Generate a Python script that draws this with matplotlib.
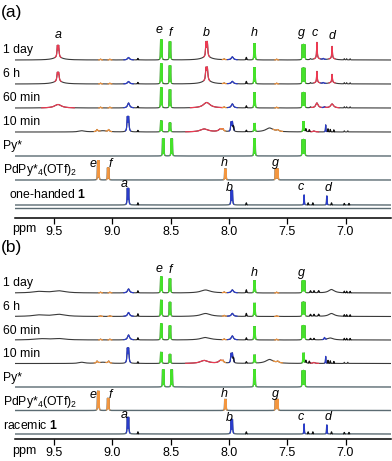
import numpy as np
import matplotlib
matplotlib.use('Agg')
import matplotlib.pyplot as plt

plt.rcParams['font.family'] = ['Liberation Sans', 'DejaVu Sans']
plt.rcParams['mathtext.fontset'] = 'custom'
plt.rcParams['mathtext.rm'] = 'Liberation Sans'
plt.rcParams['mathtext.it'] = 'Liberation Sans:italic'
plt.rcParams['mathtext.bf'] = 'Liberation Sans:bold'

W, H = 392, 461
PPM_MAX, PPM_MIN = 9.834, 6.61

COLS = {'k': '#3c3c3c', 'r': '#ec3a52', 'g': '#45e22a', 'o': '#f3963f', 'b': '#2a3ccc'}

# peaks: (ppm, height, width, colour, lines)
py_star = [(8.563, 17, .0016, 'g', 2), (8.49, 17, .0016, 'g', 2),
           (7.78, 17, .0016, 'g', 2), (7.36, 16, .0016, 'g', 3)]
pdpy = [(9.12, 19, .0016, 'o', 2), (9.035, 12, .0016, 'o', 2),
        (8.03, 11, .0016, 'o', 2), (7.59, 11, .0016, 'o', 3)]
ligand = [(8.865, 16, .0025, 'b', 2), (8.78, 2, .002, 'k', 1),
          (7.975, 14, .0025, 'b', 2), (7.85, 2, .002, 'k', 1),
          (7.355, 10, .002, 'b', 1), (7.32, 2, .002, 'k', 1), (7.28, 2, .002, 'k', 1),
          (7.16, 9, .002, 'b', 1), (7.12, 2, .002, 'k', 1),
          (7.01, 1.5, .002, 'k', 1), (6.97, 1.5, .002, 'k', 1)]

a_1day = [(9.465, 11, .004, 'r', 2), (9.465, 2.5, .05, 'k', 1),
          (9.10, .8, .004, 'o', 1), (9.02, .8, .004, 'o', 1),
          (8.86, 2.5, .01, 'b', 1), (8.78, 1.5, .003, 'k', 1),
          (8.58, 20, .0016, 'g', 2), (8.505, 18, .0016, 'g', 2),
          (8.19, 14, .004, 'r', 2), (8.19, 3, .05, 'k', 1),
          (8.04, .8, .004, 'o', 1), (7.97, 3, .01, 'b', 1), (7.85, 2.5, .003, 'k', 1),
          (7.78, 16, .0016, 'g', 2), (7.59, .8, .004, 'o', 1),
          (7.36, 15, .0016, 'g', 3), (7.30, 1, .004, 'k', 1),
          (7.245, 16, .003, 'r', 1), (7.245, 1.5, .03, 'k', 1), (7.19, 1, .005, 'b', 1),
          (7.115, 12, .003, 'r', 1), (7.115, 1.5, .03, 'k', 1),
          (7.01, 1.2, .002, 'k', 1), (6.99, 1.2, .002, 'k', 1), (6.96, 1.2, .002, 'k', 1)]
a_6h = [(9.465, 8, .005, 'r', 2), (9.465, 2.5, .05, 'k', 1),
        (9.10, .8, .004, 'o', 1), (9.02, .8, .004, 'o', 1),
        (8.86, 2.5, .01, 'b', 1), (8.78, 1.5, .003, 'k', 1),
        (8.58, 20, .0016, 'g', 2), (8.505, 18, .0016, 'g', 2),
        (8.19, 12, .005, 'r', 2), (8.19, 3, .05, 'k', 1),
        (8.04, .8, .004, 'o', 1), (7.97, 2.5, .01, 'b', 1), (7.85, 2.5, .003, 'k', 1),
        (7.78, 16, .0016, 'g', 2), (7.59, .8, .004, 'o', 1),
        (7.36, 15.5, .0016, 'g', 3), (7.30, 1, .004, 'k', 1),
        (7.245, 11, .003, 'r', 1), (7.245, 1.5, .03, 'k', 1), (7.19, 1, .005, 'b', 1),
        (7.115, 8, .003, 'r', 1), (7.115, 1.5, .03, 'k', 1),
        (7.01, 1.2, .002, 'k', 1), (6.99, 1.2, .002, 'k', 1), (6.96, 1.2, .002, 'k', 1)]
a_60min = [(9.465, 3.5, .035, 'r', 1), (9.10, .8, .004, 'o', 1), (9.02, .8, .004, 'o', 1),
           (8.86, 5, .01, 'b', 1), (8.78, 1.5, .003, 'k', 1),
           (8.58, 20, .0016, 'g', 2), (8.505, 18, .0016, 'g', 2),
           (8.19, 5.5, .035, 'r', 1), (8.04, .8, .004, 'o', 1),
           (7.97, 4, .01, 'b', 1), (7.85, 2, .003, 'k', 1),
           (7.78, 15, .0016, 'g', 2), (7.59, .8, .004, 'o', 1),
           (7.36, 15, .0016, 'g', 3), (7.30, 1, .004, 'k', 1),
           (7.245, 5, .012, 'r', 1), (7.18, 1, .005, 'b', 1), (7.115, 4, .015, 'r', 1),
           (7.01, 1.2, .002, 'k', 1), (6.99, 1.2, .002, 'k', 1), (6.96, 1.2, .002, 'k', 1)]
a_10min = [(9.26, 1.2, .03, 'k', 1), (9.13, 2, .006, 'o', 1), (9.08, 1.2, .04, 'k', 1),
           (9.03, 2, .006, 'o', 1), (8.865, 14, .004, 'b', 2), (8.78, 1.5, .003, 'k', 1),
           (8.58, 11, .0016, 'g', 2), (8.505, 9, .0016, 'g', 2),
           (8.21, 3, .04, 'r', 1), (8.07, 3, .02, 'k', 1), (8.05, 1.5, .005, 'o', 1),
           (7.975, 9, .004, 'b', 2), (7.96, 4, .003, 'k', 1), (7.85, 1.5, .003, 'k', 1),
           (7.78, 8, .0016, 'g', 2), (7.65, 4, .04, 'k', 1), (7.58, 1.5, .01, 'o', 1),
           (7.36, 10, .0016, 'g', 2), (7.34, 3, .004, 'k', 1), (7.31, 2, .003, 'k', 1),
           (7.27, 1, .01, 'r', 1), (7.17, 7, .002, 'b', 1), (7.15, 3, .002, 'k', 1),
           (7.13, 2.5, .002, 'k', 1), (7.10, 2, .002, 'k', 1),
           (7.01, 1.2, .002, 'k', 1), (6.98, 1.2, .002, 'k', 1)]

b_1day = [(9.62, 1.5, .07, 'k', 1), (9.45, 2, .06, 'k', 1),
          (9.10, .8, .004, 'o', 1), (9.02, .8, .004, 'o', 1),
          (8.86, 4, .01, 'b', 1), (8.78, 2, .003, 'k', 1),
          (8.58, 16, .0016, 'g', 2), (8.505, 14, .0016, 'g', 2),
          (8.20, 3, .05, 'k', 1), (8.04, .8, .004, 'o', 1),
          (7.97, 3, .01, 'b', 1), (7.85, 3, .003, 'k', 1),
          (7.78, 12, .0016, 'g', 2), (7.59, .8, .004, 'o', 1),
          (7.36, 12, .0016, 'g', 3), (7.30, 2, .004, 'k', 1), (7.27, 2, .004, 'k', 1),
          (7.23, 2, .004, 'k', 1), (7.12, 3.5, .03, 'k', 1),
          (7.01, 1.5, .002, 'k', 1), (6.99, 1.5, .002, 'k', 1), (6.96, 1.5, .002, 'k', 1)]
b_6h = [(9.62, 1.5, .07, 'k', 1), (9.45, 2, .06, 'k', 1),
        (9.10, .8, .004, 'o', 1), (9.02, .8, .004, 'o', 1),
        (8.86, 4, .01, 'b', 1), (8.78, 2.5, .003, 'k', 1),
        (8.58, 16, .0016, 'g', 2), (8.505, 14, .0016, 'g', 2),
        (8.20, 3, .05, 'k', 1), (8.04, .8, .004, 'o', 1),
        (7.97, 3, .01, 'b', 1), (7.85, 3, .003, 'k', 1),
        (7.78, 13, .0016, 'g', 2), (7.59, .8, .004, 'o', 1),
        (7.36, 14, .0016, 'g', 3), (7.30, 2, .004, 'k', 1), (7.27, 2, .004, 'k', 1),
        (7.23, 2, .004, 'k', 1), (7.12, 3, .03, 'k', 1),
        (7.01, 1.5, .002, 'k', 1), (6.99, 1.5, .002, 'k', 1), (6.96, 1.5, .002, 'k', 1)]
b_60min = [(9.6, 1.2, .08, 'k', 1), (9.45, 1.2, .06, 'k', 1),
           (9.10, .8, .004, 'o', 1), (9.02, .8, .004, 'o', 1),
           (8.86, 5, .01, 'b', 1), (8.78, 2, .003, 'k', 1),
           (8.58, 16, .0016, 'g', 2), (8.505, 14, .0016, 'g', 2),
           (8.20, 2.5, .05, 'k', 1), (8.04, .8, .004, 'o', 1),
           (7.97, 4, .01, 'b', 1), (7.85, 2, .003, 'k', 1),
           (7.78, 13, .0016, 'g', 2), (7.59, .8, .004, 'o', 1),
           (7.36, 14, .0016, 'g', 3), (7.30, 1.5, .004, 'k', 1), (7.27, 1.5, .004, 'k', 1),
           (7.18, 2, .004, 'b', 1), (7.13, 2, .03, 'k', 1),
           (7.01, 1.5, .002, 'k', 1), (6.99, 1.5, .002, 'k', 1), (6.96, 1.5, .002, 'k', 1)]
b_10min = a_10min

rows_a = ['1 day', '6 h', '60 min', '10 min', 'Py*', 'PdPy*$_4$(OTf)$_2$', 'one-handed $\\mathbf{1}$']
rows_b = ['1 day', '6 h', '60 min', '10 min', 'Py*', 'PdPy*$_4$(OTf)$_2$', 'racemic $\\mathbf{1}$']
spectra_a = [a_1day, a_6h, a_60min, a_10min, py_star, pdpy, ligand]
spectra_b = [b_1day, b_6h, b_60min, b_10min, py_star, pdpy, ligand]

# peak letters: (letter, ppm, height above axis)
letters_a = [('a', 9.465, 183), ('e', 8.595, 188), ('f', 8.50, 185), ('b', 8.19, 185),
             ('h', 7.785, 185), ('g', 7.375, 185), ('c', 7.26, 185), ('d', 7.115, 182),
             ('e', 9.165, 54), ('f', 9.02, 54), ('h', 8.04, 55), ('g', 7.60, 55),
             ('a', 8.895, 34), ('b', 7.995, 30), ('c', 7.38, 31), ('d', 7.15, 30)]
letters_b = [('e', 8.595, 170), ('f', 8.50, 169), ('h', 7.785, 166), ('g', 7.375, 166),
             ('e', 9.165, 44), ('f', 9.02, 44), ('h', 8.04, 45), ('g', 7.60, 45),
             ('a', 8.895, 24), ('b', 7.995, 21), ('c', 7.38, 22), ('d', 7.15, 22)]

x = np.linspace(PPM_MIN, PPM_MAX, 12000)


def lines_of(peaks):
    out = []
    for c, h, w, col, n in peaks:
        for k in range(n):
            out.append((c + (k - (n - 1) / 2) * 0.011, h, w, col))
    return out


def draw(ax, peaks, off, base_col, base_lw):
    ls = lines_of(peaks)
    y = np.zeros_like(x)
    for c, h, w, col in ls:
        y += h * w ** 2 / ((x - c) ** 2 + w ** 2)
    ax.plot(x, y + off, color=base_col, lw=base_lw, zorder=2)
    for c, h, w, col, n in peaks:
        if col == 'k':
            continue
        half = max(4 * w, 0.008) + (n - 1) * 0.0055
        if col == 'r':
            half = max(half, 0.025)
        m = np.abs(x - c) <= half
        ax.plot(x[m], y[m] + off, color=COLS[col], lw=0.85, zorder=3)
    for c, h, w, col, n in peaks:
        if col == 'k' and h > 1.4 and w < 0.005:
            m = np.abs(x - c) <= 0.006
            ax.plot(x[m], y[m] + off, color='#111111', lw=0.8, zorder=3)


def panel(bottom_px, top_px, offsets, rows, spectra, letters, tag, tag_y, row_lab_y, ticky):
    ax = fig.add_axes([15 / W, 1 - bottom_px / H, (391 - 15) / W, (bottom_px - top_px) / H])
    ax.set_xlim(PPM_MAX, PPM_MIN)
    ax.set_ylim(0, bottom_px - top_px)
    for s in ['top', 'left', 'right']:
        ax.spines[s].set_visible(False)
    ax.spines['bottom'].set_linewidth(1.1)
    ax.set_yticks([])
    ax.set_xticks([9.5, 9.0, 8.5, 8.0, 7.5, 7.0])
    ax.set_xticklabels(['9.5', '9.0', '8.5', '8.0', '7.5', '7.0'])
    ax.tick_params(axis='x', direction='out', length=4, width=0.9, labelsize=9, pad=2)
    for i, (off, peaks) in enumerate(zip(offsets, spectra)):
        if i < 4:
            draw(ax, peaks, off, '#3a3a3a', 0.8)
        else:
            draw(ax, peaks, off, '#5b6b72', 1.0)
    for t, px, py in letters:
        ax.text(px, py, t, style='italic', fontsize=9, ha='center', va='center')
    for i, lab in enumerate(rows):
        xl = 9 if lab.startswith('one') else 3
        fig.text(xl / W, 1 - row_lab_y[i] / H, lab, fontsize=8.8, ha='left', va='center')
    fig.text(1 / W, 1 - tag_y / H, tag, fontsize=12.5, ha='left', va='center')
    fig.text(12 / W, 1 - ticky / H, 'ppm', fontsize=9, ha='left', va='center')
    return ax


fig = plt.figure(figsize=(W / 100, H / 100), dpi=100)
ax1 = panel(218, 20, [158, 134, 110, 86, 62, 38, 13], rows_a, spectra_a, letters_a,
            '(a)', 13, [50, 74, 98, 122, 146, 170, 194], 229)
ax1.plot([PPM_MAX, PPM_MIN], [10, 10], color='#5b6b72', lw=1.0, zorder=2)
ax2 = panel(439, 241, [146, 122.5, 99, 75.5, 52, 28.5, 5], rows_b, spectra_b, letters_b,
            '(b)', 247, [283, 307, 331, 354, 378, 402, 425], 451)
fig.savefig('out.png', dpi=100)
